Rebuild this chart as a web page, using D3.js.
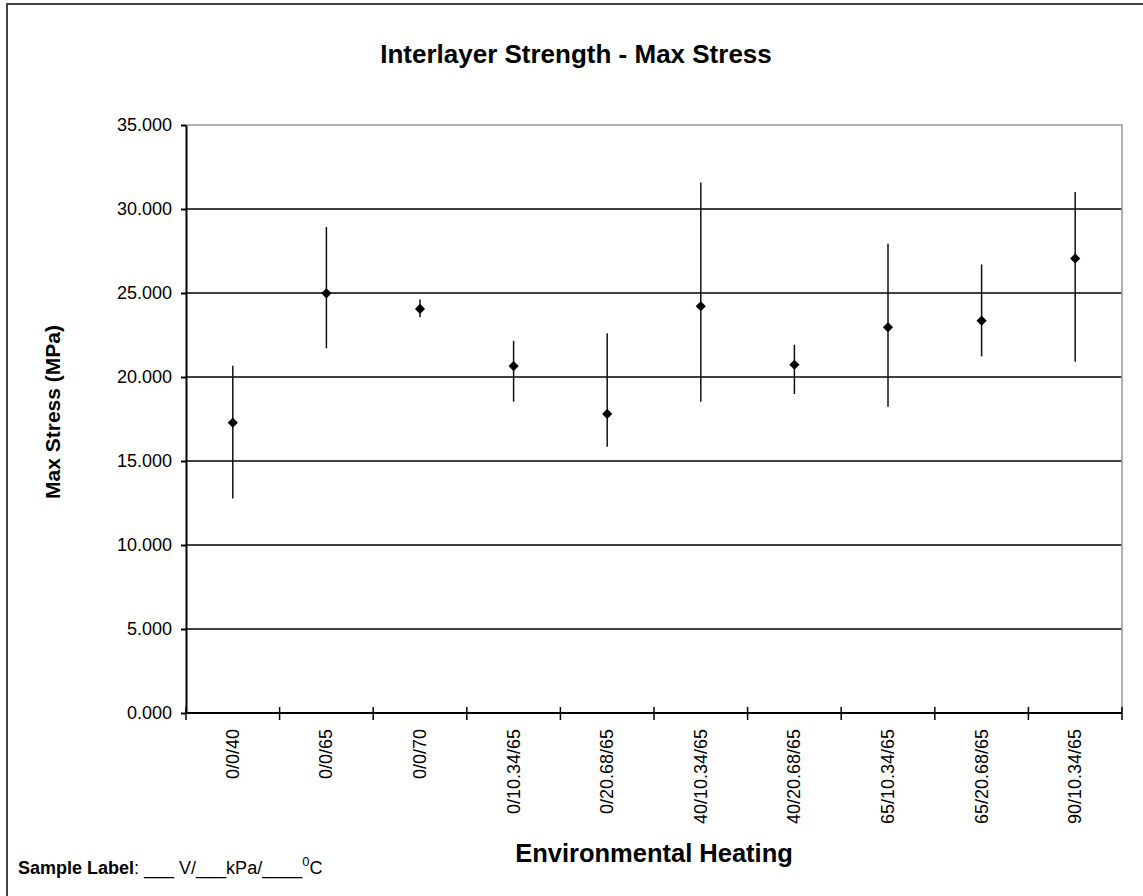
<!DOCTYPE html>
<html>
<head>
	<meta http-equiv="Content-Type" content="text/html;charset=utf-8"/>
	<title>Interlayer Strength - Max Stress</title>
	<script src="https://d3js.org/d3.v7.min.js"></script>
	<style type="text/css">
		body { margin: 0; background: #fff; }
		text { font-family: Arial, "Liberation Sans", sans-serif; fill: #000; }
		.grid line { stroke: #000; stroke-width: 1.6; }
		.axis path, .axis line { stroke: #000; stroke-width: 2; }
		.errbar { stroke: #111; stroke-width: 1.5; }
		.point { fill: #000; }
	</style>
</head>
<body>
<svg width="1143" height="896"></svg>

<script type="text/javascript">
// sample conditions (V / kPa / degC)
const categories = ['0/0/40', '0/0/65', '0/0/70', '0/10.34/65', '0/20.68/65',
	'40/10.34/65', '40/20.68/65', '65/10.34/65', '65/20.68/65', '90/10.34/65'];
// mean max stress (MPa) and error bar ends
const meanStress = [17.28, 24.98, 24.05, 20.65, 17.80, 24.21, 20.73, 22.96, 23.35, 27.06];
const upperStress = [20.67, 28.93, 24.62, 22.16, 22.60, 31.57, 21.92, 27.93, 26.70, 31.01];
const lowerStress = [12.77, 21.71, 23.55, 18.53, 15.85, 18.53, 18.99, 18.23, 21.23, 20.91];
const yTicks = [0, 5, 10, 15, 20, 25, 30, 35];

const svg = d3.select('svg');
const plot = {left: 186, right: 1122, top: 125, bottom: 713};

// outer chart frame (runs off the right and bottom of the picture)
svg.append('rect')
	.attr('x', 7).attr('y', 4)
	.attr('width', 1200).attr('height', 1000)
	.attr('fill', 'none')
	.attr('stroke', '#444')
	.attr('stroke-width', 2);

const x = d3.scaleBand()
	.domain(categories)
	.range([plot.left, plot.right]);

const y = d3.scaleLinear()
	.domain([0, 35])
	.range([plot.bottom, plot.top]);

// horizontal gridlines
svg.append('g').attr('class', 'grid')
	.selectAll('line')
	.data(yTicks.filter(t => t > 0 && t < 35))
	.enter().append('line')
		.attr('x1', plot.left).attr('x2', plot.right)
		.attr('y1', d => y(d)).attr('y2', d => y(d));

// grey plot area border, top and right
svg.append('path')
	.attr('d', `M${plot.left},${y(35)}H${plot.right}V${plot.bottom}`)
	.attr('fill', 'none')
	.attr('stroke', '#999')
	.attr('stroke-width', 1.5);

// y axis
const yAxis = svg.append('g').attr('class', 'axis')
	.attr('transform', `translate(${plot.left},0)`)
	.call(d3.axisLeft(y).tickValues(yTicks).tickFormat(d3.format('.3f')).tickSize(5).tickSizeOuter(0).tickPadding(9));
yAxis.selectAll('text').style('font-size', '18px').attr('fill', '#000');

// x axis, ticks on the band edges, crossing the line
const edges = categories.map(c => x(c)).concat([plot.right]);
const xAxis = svg.append('g').attr('class', 'axis');
xAxis.append('line')
	.attr('x1', plot.left).attr('x2', plot.right)
	.attr('y1', plot.bottom).attr('y2', plot.bottom);
xAxis.selectAll('.edge')
	.data(edges)
	.enter().append('line')
		.attr('class', 'edge')
		.attr('x1', d => d).attr('x2', d => d)
		.attr('y1', plot.bottom - 6).attr('y2', plot.bottom + 7)
		.style('stroke-width', 1.5);
xAxis.selectAll('text')
	.data(categories)
	.enter().append('text')
		.attr('transform', d => `translate(${x(d) + x.bandwidth() / 2 + 6},${plot.bottom + 16}) rotate(-90)`)
		.attr('text-anchor', 'end')
		.style('font-size', '18px')
		.text(d => d);

// error bars
svg.selectAll('.errbar')
	.data(categories)
	.enter().append('line')
		.attr('class', 'errbar')
		.attr('x1', d => x(d) + x.bandwidth() / 2)
		.attr('x2', d => x(d) + x.bandwidth() / 2)
		.attr('y1', (d, i) => y(upperStress[i]))
		.attr('y2', (d, i) => y(lowerStress[i]));

// diamond markers (square turned 45 degrees, like excel's)
const diamond = d3.symbol().type(d3.symbolSquare).size(52);
svg.selectAll('.point')
	.data(categories)
	.enter().append('path')
		.attr('class', 'point')
		.attr('d', diamond)
		.attr('transform', (d, i) => `translate(${x(d) + x.bandwidth() / 2},${y(meanStress[i])}) rotate(45)`);

// titles
svg.append('text')
	.attr('x', 576).attr('y', 63)
	.attr('text-anchor', 'middle')
	.style('font-size', '26px').style('font-weight', 'bold')
	.text('Interlayer Strength - Max Stress');

svg.append('text')
	.attr('transform', 'translate(60,412) rotate(-90)')
	.attr('text-anchor', 'middle')
	.style('font-size', '21px').style('font-weight', 'bold')
	.text('Max Stress (MPa)');

svg.append('text')
	.attr('x', 654).attr('y', 862)
	.attr('text-anchor', 'middle')
	.style('font-size', '25.5px').style('font-weight', 'bold')
	.text('Environmental Heating');

const label = svg.append('text')
	.attr('x', 18).attr('y', 874)
	.style('font-size', '18px');
label.append('tspan').style('font-weight', 'bold').text('Sample Label');
label.append('tspan').text(': ___ V/___kPa/____');
label.append('tspan').attr('dy', -8).style('font-size', '13px').text('0');
label.append('tspan').attr('dy', 8).text('C');
</script>
</body>
</html>
